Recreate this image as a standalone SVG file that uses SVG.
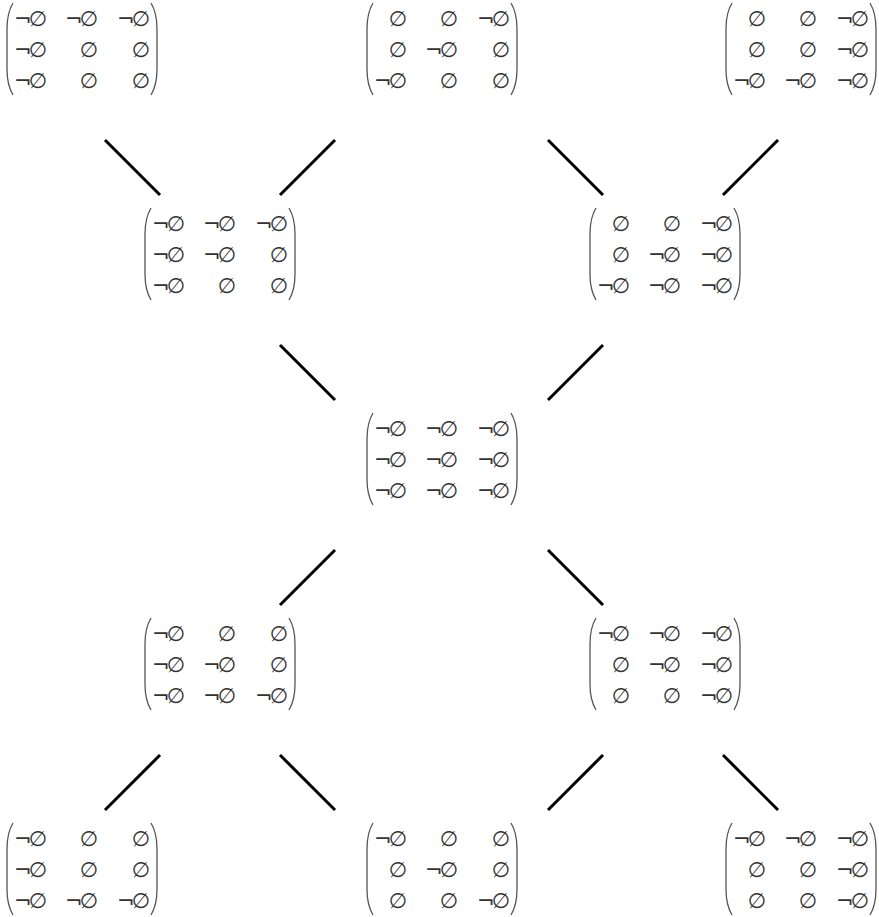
<svg xmlns="http://www.w3.org/2000/svg" width="879" height="917" viewBox="0 0 879 917">
<style>
.bg{fill:#fff}
.c{font-family:"DejaVu Sans",sans-serif;font-size:21px;fill:#333;text-anchor:end;letter-spacing:-3px}
.p{fill:none;stroke:#555;stroke-width:1.3}
.e{stroke:#000;stroke-width:3;stroke-linecap:butt}
</style>
<defs>
<path id="lp" class="p" d="M6,0 Q0,10 0,26 L0,66 Q0,82 6,92"/>
<path id="rp" class="p" d="M144,0 Q150,10 150,26 L150,66 Q150,82 144,92"/>
</defs>
<rect class="bg" width="879" height="917"/>
<g id="connectors">
<line class="e" x1="105" y1="140" x2="160" y2="195"/>
<line class="e" x1="280" y1="195" x2="335" y2="140"/>
<line class="e" x1="548" y1="140" x2="603" y2="195"/>
<line class="e" x1="723" y1="195" x2="778" y2="140"/>
<line class="e" x1="280" y1="345" x2="335" y2="400"/>
<line class="e" x1="548" y1="400" x2="603" y2="345"/>
<line class="e" x1="280" y1="605" x2="335" y2="550"/>
<line class="e" x1="548" y1="550" x2="603" y2="605"/>
<line class="e" x1="105" y1="810" x2="160" y2="755"/>
<line class="e" x1="280" y1="755" x2="335" y2="810"/>
<line class="e" x1="548" y1="810" x2="603" y2="755"/>
<line class="e" x1="723" y1="755" x2="778" y2="810"/>
</g>
<g id="tl" transform="translate(7,3)"><use href="#lp"/><use href="#rp"/>
<text class="c" x="37" y="23">¬∅</text><text class="c" x="88" y="23">¬∅</text><text class="c" x="140" y="23">¬∅</text>
<text class="c" x="37" y="54">¬∅</text><text class="c" x="88" y="54">∅</text><text class="c" x="140" y="54">∅</text>
<text class="c" x="37" y="85">¬∅</text><text class="c" x="88" y="85">∅</text><text class="c" x="140" y="85">∅</text></g>
<g id="tm" transform="translate(367,3)"><use href="#lp"/><use href="#rp"/>
<text class="c" x="37" y="23">∅</text><text class="c" x="88" y="23">∅</text><text class="c" x="140" y="23">¬∅</text>
<text class="c" x="37" y="54">∅</text><text class="c" x="88" y="54">¬∅</text><text class="c" x="140" y="54">∅</text>
<text class="c" x="37" y="85">¬∅</text><text class="c" x="88" y="85">∅</text><text class="c" x="140" y="85">∅</text></g>
<g id="tr" transform="translate(726,3)"><use href="#lp"/><use href="#rp"/>
<text class="c" x="37" y="23">∅</text><text class="c" x="88" y="23">∅</text><text class="c" x="140" y="23">¬∅</text>
<text class="c" x="37" y="54">∅</text><text class="c" x="88" y="54">∅</text><text class="c" x="140" y="54">¬∅</text>
<text class="c" x="37" y="85">¬∅</text><text class="c" x="88" y="85">¬∅</text><text class="c" x="140" y="85">¬∅</text></g>
<g id="r2l" transform="translate(145,208)"><use href="#lp"/><use href="#rp"/>
<text class="c" x="37" y="23">¬∅</text><text class="c" x="88" y="23">¬∅</text><text class="c" x="140" y="23">¬∅</text>
<text class="c" x="37" y="54">¬∅</text><text class="c" x="88" y="54">¬∅</text><text class="c" x="140" y="54">∅</text>
<text class="c" x="37" y="85">¬∅</text><text class="c" x="88" y="85">∅</text><text class="c" x="140" y="85">∅</text></g>
<g id="r2r" transform="translate(590,208)"><use href="#lp"/><use href="#rp"/>
<text class="c" x="37" y="23">∅</text><text class="c" x="88" y="23">∅</text><text class="c" x="140" y="23">¬∅</text>
<text class="c" x="37" y="54">∅</text><text class="c" x="88" y="54">¬∅</text><text class="c" x="140" y="54">¬∅</text>
<text class="c" x="37" y="85">¬∅</text><text class="c" x="88" y="85">¬∅</text><text class="c" x="140" y="85">¬∅</text></g>
<g id="ctr" transform="translate(367,413)"><use href="#lp"/><use href="#rp"/>
<text class="c" x="37" y="23">¬∅</text><text class="c" x="88" y="23">¬∅</text><text class="c" x="140" y="23">¬∅</text>
<text class="c" x="37" y="54">¬∅</text><text class="c" x="88" y="54">¬∅</text><text class="c" x="140" y="54">¬∅</text>
<text class="c" x="37" y="85">¬∅</text><text class="c" x="88" y="85">¬∅</text><text class="c" x="140" y="85">¬∅</text></g>
<g id="r4l" transform="translate(145,618)"><use href="#lp"/><use href="#rp"/>
<text class="c" x="37" y="23">¬∅</text><text class="c" x="88" y="23">∅</text><text class="c" x="140" y="23">∅</text>
<text class="c" x="37" y="54">¬∅</text><text class="c" x="88" y="54">¬∅</text><text class="c" x="140" y="54">∅</text>
<text class="c" x="37" y="85">¬∅</text><text class="c" x="88" y="85">¬∅</text><text class="c" x="140" y="85">¬∅</text></g>
<g id="r4r" transform="translate(590,618)"><use href="#lp"/><use href="#rp"/>
<text class="c" x="37" y="23">¬∅</text><text class="c" x="88" y="23">¬∅</text><text class="c" x="140" y="23">¬∅</text>
<text class="c" x="37" y="54">∅</text><text class="c" x="88" y="54">¬∅</text><text class="c" x="140" y="54">¬∅</text>
<text class="c" x="37" y="85">∅</text><text class="c" x="88" y="85">∅</text><text class="c" x="140" y="85">¬∅</text></g>
<g id="bl" transform="translate(7,823)"><use href="#lp"/><use href="#rp"/>
<text class="c" x="37" y="23">¬∅</text><text class="c" x="88" y="23">∅</text><text class="c" x="140" y="23">∅</text>
<text class="c" x="37" y="54">¬∅</text><text class="c" x="88" y="54">∅</text><text class="c" x="140" y="54">∅</text>
<text class="c" x="37" y="85">¬∅</text><text class="c" x="88" y="85">¬∅</text><text class="c" x="140" y="85">¬∅</text></g>
<g id="bm" transform="translate(367,823)"><use href="#lp"/><use href="#rp"/>
<text class="c" x="37" y="23">¬∅</text><text class="c" x="88" y="23">∅</text><text class="c" x="140" y="23">∅</text>
<text class="c" x="37" y="54">∅</text><text class="c" x="88" y="54">¬∅</text><text class="c" x="140" y="54">∅</text>
<text class="c" x="37" y="85">∅</text><text class="c" x="88" y="85">∅</text><text class="c" x="140" y="85">¬∅</text></g>
<g id="br" transform="translate(726,823)"><use href="#lp"/><use href="#rp"/>
<text class="c" x="37" y="23">¬∅</text><text class="c" x="88" y="23">¬∅</text><text class="c" x="140" y="23">¬∅</text>
<text class="c" x="37" y="54">∅</text><text class="c" x="88" y="54">∅</text><text class="c" x="140" y="54">¬∅</text>
<text class="c" x="37" y="85">∅</text><text class="c" x="88" y="85">∅</text><text class="c" x="140" y="85">¬∅</text></g>
</svg>
